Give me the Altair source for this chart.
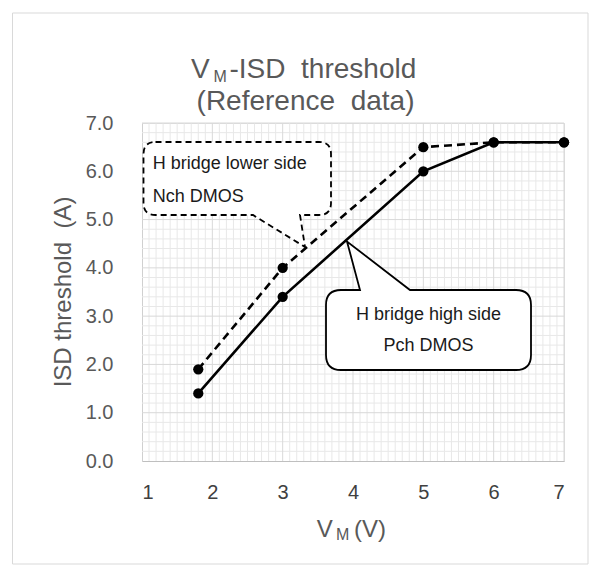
import altair as alt
import pandas as pd
import numpy as np

# ---- data ----
vm = [1.8, 3, 5, 6, 7]
nch_lower = [1.9, 4.0, 6.5, 6.6, 6.6]   # H bridge lower side, Nch DMOS (dashed)
pch_high = [1.4, 3.4, 6.0, 6.6, 6.6]    # H bridge high side, Pch DMOS (solid)
x_ticks = [1, 2, 3, 4, 5, 6, 7]
y_ticks = [0, 1, 2, 3, 4, 5, 6, 7]

FONT = "Liberation Sans"
GRAY = "#595959"
W, H = 422, 338
OX, OY = 142, 123  # page position of the plot origin


def px(x):
    return x - OX


def py(y):
    return y - OY


one = alt.Data(values=[{}])

df = pd.DataFrame({"vm": vm * 2,
                   "isd": nch_lower + pch_high,
                   "series": ["Nch"] * len(vm) + ["Pch"] * len(vm)})

xs = alt.Scale(domain=[1, 7], nice=False)
ys = alt.Scale(domain=[0, 7], nice=False)

xaxis = alt.Axis(values=x_ticks, format="d", labelFontSize=20, labelFont=FONT, labelColor="#404040",
                 labelPadding=21, ticks=False, tickSize=0, grid=False, domainColor="#bfbfbf",
                 domainWidth=1, title="")
yaxis = alt.Axis(values=y_ticks, format=".1f", labelFontSize=20, labelFont=FONT, labelColor=GRAY,
                 labelPadding=29, ticks=False, tickSize=0, grid=False, domainColor="#d0d0d0",
                 domainWidth=1, title="")

# grid lines
minor_x = [round(v, 1) for v in np.arange(1.1, 7.0, 0.1) if abs(v - round(v)) > 1e-6]
minor_y = [round(v, 1) for v in np.arange(0.2, 7.0, 0.2) if abs(v - round(v)) > 1e-6]

gx_minor = alt.Chart(pd.DataFrame({"vm": minor_x})).mark_rule(color="#e8e8e8", strokeWidth=1).encode(
    x=alt.X("vm:Q", scale=xs, axis=xaxis))
gy_minor = alt.Chart(pd.DataFrame({"isd": minor_y})).mark_rule(color="#e8e8e8", strokeWidth=1).encode(
    y=alt.Y("isd:Q", scale=ys, axis=yaxis))
gx_major = alt.Chart(pd.DataFrame({"vm": x_ticks[1:]})).mark_rule(color="#d9d9d9", strokeWidth=1).encode(
    x=alt.X("vm:Q", scale=xs, axis=xaxis))
gy_major = alt.Chart(pd.DataFrame({"isd": y_ticks[1:]})).mark_rule(color="#d9d9d9", strokeWidth=1).encode(
    y=alt.Y("isd:Q", scale=ys, axis=yaxis))

base = alt.Chart(df).encode(
    x=alt.X("vm:Q", scale=xs, axis=xaxis),
    y=alt.Y("isd:Q", scale=ys, axis=yaxis),
)

line_n = base.transform_filter(alt.datum.series == "Nch").mark_line(
    color="black", strokeWidth=2.6, strokeDash=[8, 5])
line_p = base.transform_filter(alt.datum.series == "Pch").mark_line(
    color="black", strokeWidth=2.6)
pts = base.mark_circle(color="black", size=105, opacity=1)


def P(x, y):
    return f"{px(x):.1f},{py(y):.1f}"


# Nch callout (dashed rounded box with pointer at the bottom)
L, T, R, B, r = 143.5, 142, 331, 215, 12
nch_path = " ".join([
    "M", P(L + r, T), "L", P(R - r, T), "Q", P(R, T), P(R, T + r),
    "L", P(R, B - r), "Q", P(R, B), P(R - r, B),
    "L", P(300, B), "L", P(305, 247), "L", P(253, B),
    "L", P(L + r, B), "Q", P(L, B), P(L, B - r),
    "L", P(L, T + r), "Q", P(L, T), P(L + r, T), "Z"])

# Pch callout (solid rounded box with pointer at the top)
L2, T2, R2, B2, r2 = 326, 290, 531, 370, 15
pch_path = " ".join([
    "M", P(L2 + r2, T2), "L", P(360, T2), "L", P(347, 241.5), "L", P(410, T2),
    "L", P(R2 - r2, T2), "Q", P(R2, T2), P(R2, T2 + r2),
    "L", P(R2, B2 - r2), "Q", P(R2, B2), P(R2 - r2, B2),
    "L", P(L2 + r2, B2), "Q", P(L2, B2), P(L2, B2 - r2),
    "L", P(L2, T2 + r2), "Q", P(L2, T2), P(L2 + r2, T2), "Z"])

callout_n = alt.Chart(one).mark_point(
    shape=nch_path, size=4, filled=True, fill="white", stroke="black", strokeWidth=1.8,
    strokeDash=[6, 4], opacity=1, fillOpacity=1, strokeOpacity=1).encode(
    x=alt.value(0), y=alt.value(0))
callout_p = alt.Chart(one).mark_point(
    shape=pch_path, size=4, filled=True, fill="white", stroke="black", strokeWidth=1.8,
    opacity=1, fillOpacity=1, strokeOpacity=1).encode(
    x=alt.value(0), y=alt.value(0))


def label(text, x, y, size, align="left", color=GRAY, angle=0, baseline="alphabetic"):
    return alt.Chart(one).mark_text(
        text=text, fontSize=size, font=FONT, color=color, align=align,
        baseline=baseline, angle=angle).encode(x=alt.value(px(x)), y=alt.value(py(y)))


texts = [
    # title
    label("V", 191, 78.3, 28),
    label("M", 213.5, 82, 16),
    label("-ISD\u00a0 threshold", 229.5, 78.3, 28),
    label("(Reference\u00a0 data)", 305.5, 110, 28, align="center"),
    # callout texts
    label("H bridge lower side", 152.7, 169, 18, color="#1a1a1a"),
    label("Nch DMOS", 152.7, 201.7, 18, color="#1a1a1a"),
    label("H bridge high side", 428.5, 320, 18, align="center", color="#1a1a1a"),
    label("Pch DMOS", 428.5, 350.7, 18, align="center", color="#1a1a1a"),
    # axis titles
    label("ISD threshold\u00a0 (A)", 64, 292, 24, align="center", angle=270, baseline="middle"),
    label("V", 316.7, 536.7, 24),
    label("M", 336, 540, 16),
    label("(V)", 354, 537, 24),
]

border = alt.Chart(one).mark_rect(fillOpacity=0, stroke="#d9d9d9", strokeWidth=1).encode(
    x=alt.value(px(12.5)), x2=alt.value(px(588)), y=alt.value(py(13)), y2=alt.value(py(564)))

chart = alt.layer(
    base.mark_point(opacity=0), border, gx_minor, gy_minor, gx_major, gy_major,
    line_n, line_p, pts, callout_n, callout_p, *texts
).resolve_scale(x="shared", y="shared").properties(
    width=W, height=H,
    autosize=alt.AutoSizeParams(type="none"),
    padding={"left": 134, "top": 115, "right": 28, "bottom": 104},
).configure_view(strokeWidth=0).configure(background="white")

chart.save("out.html", embed_options={"renderer": "svg", "actions": False})
